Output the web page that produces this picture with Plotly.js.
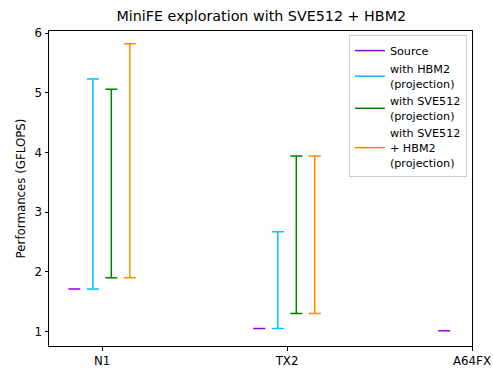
<!DOCTYPE html>
<html>
<head>
<meta charset="utf-8">
<script src="https://cdn.plot.ly/plotly-3.0.1.min.js"></script>
<style>html,body{margin:0;padding:0;background:#fff;}#chart{width:493px;height:368px;}</style>
</head>
<body>
<div id="chart"></div>
<script>
var categories = ["N1", "TX2", "A64FX"];
var seriesNames = ["Source", "with HBM2<br>(projection)", "with SVE512<br>(projection)", "with SVE512<br>+ HBM2<br>(projection)"];
var seriesColors = ["#9400d3", "#00bfff", "#008000", "#ff8c00"];
// low / high values per category (null = absent)
var sourceLow = [1.71, 1.05, 1.01];
var sourceHigh = [1.71, 1.05, 1.01];
var hbm2Low = [1.71, 1.05, null];
var hbm2High = [5.23, 2.67, null];
var sve512Low = [1.90, 1.30, null];
var sve512High = [5.06, 3.94, null];
var sveHbmLow = [1.90, 1.30, null];
var sveHbmHigh = [5.82, 3.94, null];

var lows = [sourceLow, hbm2Low, sve512Low, sveHbmLow];
var highs = [sourceHigh, hbm2High, sve512High, sveHbmHigh];
var offsets = [-0.15, -0.05, 0.05, 0.15];

var traces = [];
for (var s = 0; s < 4; s++) {
  var xs = [], ys = [], ep = [];
  for (var i = 0; i < categories.length; i++) {
    if (lows[s][i] === null) continue;
    xs.push(i + offsets[s]);
    ys.push(lows[s][i]);
    ep.push(highs[s][i] - lows[s][i]);
  }
  traces.push({
    x: xs, y: ys, type: "scatter", mode: "markers",
    marker: {size: 1, opacity: 0, color: seriesColors[s]},
    error_y: {type: "data", symmetric: false, array: ep, arrayminus: ep.map(function(){return 0;}),
      color: seriesColors[s], thickness: 1.5, width: 6},
    showlegend: false, hoverinfo: "skip"
  });
  traces.push({
    x: [null], y: [null], type: "scatter", mode: "lines",
    line: {color: seriesColors[s], width: 1.5},
    name: seriesNames[s], showlegend: true
  });
}

var layout = {
  width: 493, height: 368,
  margin: {l: 49, r: 21, t: 31, b: 22},
  paper_bgcolor: "#fff", plot_bgcolor: "#fff",
  font: {family: "DejaVu Sans", size: 11.8, color: "#000"},
  title: {text: "MiniFE exploration with SVE512 + HBM2", font: {size: 14.3, family: "DejaVu Sans"}, x: 0.53, xanchor: "center", y: 0.957, yanchor: "middle"},
  xaxis: {
    range: [-0.287, 2.0], tickvals: [0, 1, 2], ticktext: categories,
    showline: true, mirror: true, linecolor: "#000", linewidth: 1,
    ticks: "outside", ticklen: 3.5, tickcolor: "#000", showgrid: false, zeroline: false
  },
  yaxis: {
    range: [0.755, 6.035], tickvals: [1, 2, 3, 4, 5, 6],
    showline: true, mirror: true, linecolor: "#000", linewidth: 1,
    ticks: "outside", ticklen: 3.5, tickcolor: "#000", showgrid: false, zeroline: false,
    title: {text: "Performances (GFLOPS)", font: {size: 11.8}, standoff: 6}
  },
  legend: {
    x: 0.709, y: 0.987, xanchor: "left", yanchor: "top",
    bgcolor: "rgba(255,255,255,0.8)", bordercolor: "#cccccc", borderwidth: 1,
    font: {size: 11.2}, tracegroupgap: 0, itemwidth: 30
  }
};
Plotly.newPlot("chart", traces, layout, {displayModeBar: false, staticPlot: true});
</script>
</body>
</html>
